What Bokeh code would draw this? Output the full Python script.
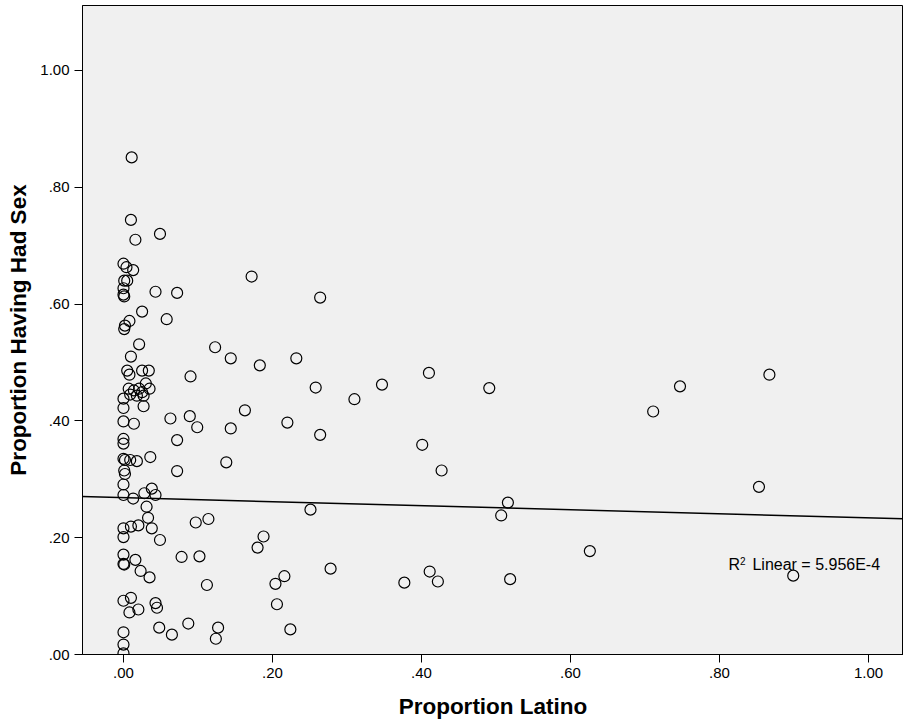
from bokeh.plotting import figure
from bokeh.models import Range1d, Slope, Label, FixedTicker, CustomJSTickFormatter, ColumnDataSource
from bokeh.embed import file_html
from bokeh.resources import INLINE

# Proportion Latino (x) and Proportion Having Had Sex (y)
latino = [
    0.011, 0.010, 0.016, 0.049, 0.000, 0.004, 0.013, 0.172, 0.001, 0.005,
    0.000, 0.000, 0.001, 0.043, 0.072, 0.264, 0.025, 0.058, 0.008, 0.002,
    0.001, 0.021, 0.123, 0.010, 0.144, 0.232, 0.183, 0.005, 0.008, 0.025,
    0.034, 0.090, 0.030, 0.035, 0.007, 0.014, 0.021, 0.025, 0.009, 0.018,
    0.027, 0.000, 0.000, 0.027, 0.258, 0.310, 0.347, 0.410, 0.491, 0.747,
    0.867, 0.711, 0.163, 0.063, 0.089, 0.099, 0.144, 0.220, 0.000, 0.014,
    0.072, 0.264, 0.000, 0.000, 0.401, 0.036, 0.138, 0.000, 0.002, 0.009,
    0.018, 0.427, 0.072, 0.001, 0.002, 0.000, 0.853, 0.028, 0.038, 0.043,
    0.000, 0.013, 0.516, 0.031, 0.251, 0.507, 0.033, 0.114, 0.097, 0.000,
    0.010, 0.020, 0.038, 0.188, 0.000, 0.049, 0.180, 0.626, 0.000, 0.078,
    0.102, 0.016, 0.000, 0.001, 0.278, 0.023, 0.411, 0.899, 0.216, 0.035,
    0.519, 0.422, 0.377, 0.204, 0.112, 0.010, 0.000, 0.043, 0.206, 0.045,
    0.020, 0.008, 0.087, 0.048, 0.127, 0.224, 0.000, 0.065, 0.124, 0.000,
    0.000,
]
had_sex = [
    0.851, 0.744, 0.710, 0.720, 0.669, 0.663, 0.658, 0.647, 0.640, 0.640,
    0.627, 0.616, 0.613, 0.621, 0.619, 0.611, 0.587, 0.574, 0.571, 0.563,
    0.557, 0.531, 0.526, 0.510, 0.507, 0.507, 0.495, 0.486, 0.479, 0.486,
    0.486, 0.476, 0.464, 0.455, 0.455, 0.452, 0.455, 0.449, 0.445, 0.443,
    0.443, 0.438, 0.422, 0.425, 0.457, 0.437, 0.462, 0.482, 0.456, 0.459,
    0.479, 0.416, 0.418, 0.404, 0.408, 0.389, 0.387, 0.397, 0.399, 0.395,
    0.367, 0.376, 0.369, 0.361, 0.359, 0.338, 0.329, 0.335, 0.333, 0.333,
    0.331, 0.315, 0.314, 0.315, 0.309, 0.291, 0.287, 0.276, 0.284, 0.273,
    0.273, 0.267, 0.260, 0.253, 0.248, 0.238, 0.234, 0.232, 0.226, 0.216,
    0.219, 0.221, 0.216, 0.202, 0.201, 0.196, 0.183, 0.177, 0.171, 0.167,
    0.168, 0.162, 0.155, 0.154, 0.147, 0.143, 0.142, 0.135, 0.134, 0.132,
    0.129, 0.125, 0.123, 0.121, 0.119, 0.097, 0.092, 0.088, 0.086, 0.080,
    0.077, 0.072, 0.053, 0.046, 0.046, 0.043, 0.038, 0.034, 0.027, 0.017,
    0.002,
]

# Fit line
fit_intercept = 0.2685
fit_slope = -0.0345
r2_base = "R"
r2_sup = "2"
r2_rest = "Linear = 5.956E-4"

tick_values = [0.0, 0.2, 0.4, 0.6, 0.8, 1.0]

FONT = "Liberation Sans"

p = figure(
    width=903, height=726,
    x_range=Range1d(-0.055, 1.047), y_range=Range1d(0.0, 1.111),
    output_backend="svg", toolbar_location=None,
    min_border_left=82, min_border_right=0, min_border_top=5, min_border_bottom=72,
    background_fill_color="#F0F0F0", border_fill_color="white",
    outline_line_color="black", outline_line_width=1,
)
p.grid.visible = False

src = ColumnDataSource(dict(x=latino, y=had_sex))
p.scatter("x", "y", source=src, marker="circle", size=11,
          fill_color=None, line_color="black", line_width=1.2)

p.add_layout(Slope(gradient=fit_slope, y_intercept=fit_intercept,
                   line_color="black", line_width=1.5))

fmt = CustomJSTickFormatter(code="""
    var s = tick.toFixed(2);
    if (s.charAt(0) === '0') { s = s.substring(1); }
    return s;
""")

for ax in (p.xaxis[0], p.yaxis[0]):
    ax.ticker = FixedTicker(ticks=tick_values)
    ax.formatter = fmt
    ax.minor_tick_line_color = None
    ax.major_tick_in = 0
    ax.major_tick_out = 8
    ax.axis_line_color = "black"
    ax.major_tick_line_color = "black"
    ax.major_label_text_font = FONT
    ax.major_label_text_font_size = "15px"
    ax.major_label_text_color = "black"
    ax.axis_label_text_font = FONT
    ax.axis_label_text_font_style = "bold"
    ax.axis_label_text_font_size = "22.5px"
    ax.axis_label_text_color = "black"

p.xaxis.axis_label = "Proportion Latino"
p.yaxis.axis_label = "Proportion Having Had Sex"
p.xaxis.major_label_standoff = 5
p.xaxis.axis_label_standoff = 13
p.yaxis.major_label_standoff = 5
p.yaxis.axis_label_standoff = 6

lab_x = 0.812
lab_y = 0.154
p.add_layout(Label(x=lab_x, y=lab_y, text=r2_base, text_font=FONT,
                   text_font_size="16px", text_color="black",
                   text_baseline="middle", text_align="left"))
p.add_layout(Label(x=lab_x, y=lab_y, x_offset=11.5, y_offset=4, text=r2_sup, text_font=FONT,
                   text_font_size="10px", text_color="black",
                   text_baseline="middle", text_align="left"))
p.add_layout(Label(x=lab_x, y=lab_y, x_offset=24, text=r2_rest, text_font=FONT,
                   text_font_size="16px", text_color="black",
                   text_baseline="middle", text_align="left"))

open("out.html", "w").write(file_html(p, INLINE))
